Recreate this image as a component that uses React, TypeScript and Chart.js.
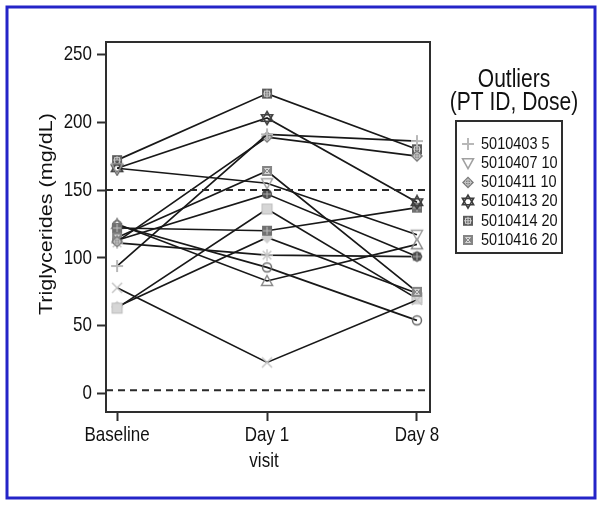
import React, { useEffect, useRef } from 'react';
import { Chart, registerables } from 'chart.js';

Chart.register(...registerables);

// ---- data ----
const visits = ['Baseline', 'Day 1', 'Day 8'];
const yTicks = [0, 50, 100, 150, 200, 250];
const refLines = [150, 2.5];

// outliers (shown in legend)
const pt5010403 = [94, 191, 186];
const pt5010407 = [166, 155, 117];
const pt5010411 = [112, 189, 175];
const pt5010413 = [166, 203, 141];
const pt5010414 = [172, 221, 180];
const pt5010416 = [115, 164, 75];
// other patients
const ptA = [122, 120, 137];
const ptB = [124, 93, 54];
const ptC = [125, 83, 110];
const ptD = [113, 147, 101];
const ptE = [111, 102, 101];
const ptF = [78, 23, 69];
const ptG = [63, 136, 70];
const ptH = [64, 115, 74];

const legendLabels = ['5010403 5', '5010407 10', '5010411 10', '5010413 20', '5010414 20', '5010416 20'];

const X_MIN = -0.074;
const X_MAX = 2.087;
const Y_MIN = -13.5;
const Y_MAX = 259;
const S = 1.2; // vertical text stretch
const FONT = "'Liberation Sans', Arial, Helvetica, sans-serif";

type Kind = string;

function drawMarker(ctx: CanvasRenderingContext2D, kind: Kind, x: number, y: number) {
  ctx.save();
  ctx.translate(x, y);
  ctx.lineWidth = 1.5;
  const line = (a: number, b: number, c: number, d: number) => {
    ctx.beginPath(); ctx.moveTo(a, b); ctx.lineTo(c, d); ctx.stroke();
  };
  switch (kind) {
    case 'plus':
      ctx.strokeStyle = '#b8b8b8'; ctx.lineWidth = 2;
      line(-6, 0, 6, 0); line(0, -6, 0, 6);
      break;
    case 'triDown':
      ctx.strokeStyle = '#a0a0a0';
      ctx.beginPath(); ctx.moveTo(-5.5, -4.5); ctx.lineTo(5.5, -4.5); ctx.lineTo(0, 5.5); ctx.closePath(); ctx.stroke();
      break;
    case 'diamondCross':
      ctx.fillStyle = '#7a7a7a';
      ctx.beginPath(); ctx.moveTo(0, -6); ctx.lineTo(6, 0); ctx.lineTo(0, 6); ctx.lineTo(-6, 0); ctx.closePath(); ctx.fill();
      ctx.strokeStyle = '#c8c8c8'; ctx.lineWidth = 1;
      ctx.beginPath(); ctx.arc(0, 0, 2.8, 0, Math.PI * 2); ctx.stroke();
      line(-4, 0, 4, 0); line(0, -4, 0, 4);
      break;
    case 'starDavid':
      ctx.strokeStyle = '#3c3c3c'; ctx.lineWidth = 1.6;
      ctx.beginPath(); ctx.moveTo(0, -6.5); ctx.lineTo(5.6, 3.2); ctx.lineTo(-5.6, 3.2); ctx.closePath(); ctx.stroke();
      ctx.beginPath(); ctx.moveTo(0, 6.5); ctx.lineTo(5.6, -3.2); ctx.lineTo(-5.6, -3.2); ctx.closePath(); ctx.stroke();
      break;
    case 'squareCross':
      ctx.fillStyle = '#5c5c5c'; ctx.fillRect(-5, -5, 10, 10);
      ctx.strokeStyle = '#d0d0d0'; ctx.lineWidth = 1;
      ctx.strokeRect(-2.5, -2.5, 5, 5);
      line(0, -4, 0, 4); line(-4, 0, 4, 0);
      break;
    case 'squareInner':
      ctx.fillStyle = '#858585'; ctx.fillRect(-5, -5, 10, 10);
      ctx.strokeStyle = '#d8d8d8'; ctx.lineWidth = 1;
      ctx.beginPath(); ctx.moveTo(-2.5, -2.5); ctx.lineTo(2.5, -2.5); ctx.lineTo(-2.5, 2.5); ctx.lineTo(2.5, 2.5); ctx.closePath(); ctx.stroke();
      break;
    case 'circle':
      ctx.strokeStyle = '#6a6a6a';
      ctx.beginPath(); ctx.arc(0, 0, 4.5, 0, Math.PI * 2); ctx.stroke();
      break;
    case 'triangle':
      ctx.strokeStyle = '#8a8a8a';
      ctx.beginPath(); ctx.moveTo(0, -5.5); ctx.lineTo(5.5, 4.5); ctx.lineTo(-5.5, 4.5); ctx.closePath(); ctx.stroke();
      break;
    case 'asterisk':
      ctx.strokeStyle = '#c8c8c8';
      line(-6, 0, 6, 0); line(0, -6, 0, 6); line(-4.3, -4.3, 4.3, 4.3); line(-4.3, 4.3, 4.3, -4.3);
      break;
    case 'xLight':
      ctx.strokeStyle = '#c4c4c4';
      line(-5, -5, 5, 5); line(-5, 5, 5, -5);
      break;
    case 'squareLight':
      ctx.fillStyle = '#d6d6d6'; ctx.fillRect(-5, -5, 10, 10);
      ctx.strokeStyle = '#bdbdbd'; ctx.lineWidth = 1; ctx.strokeRect(-5, -5, 10, 10);
      break;
    case 'diamondLight':
      ctx.fillStyle = '#cfcfcf';
      ctx.beginPath(); ctx.moveTo(0, -6); ctx.lineTo(6, 0); ctx.lineTo(0, 6); ctx.lineTo(-6, 0); ctx.closePath(); ctx.fill();
      break;
    case 'circlePlus':
      ctx.fillStyle = '#4c4c4c';
      ctx.beginPath(); ctx.arc(0, 0, 5, 0, Math.PI * 2); ctx.fill();
      ctx.strokeStyle = '#b0b0b0'; ctx.lineWidth = 1;
      line(-4, 0, 4, 0); line(0, -4, 0, 4);
      break;
    case 'squareDark':
      ctx.fillStyle = '#707070'; ctx.fillRect(-5, -5, 10, 10);
      ctx.strokeStyle = '#c0c0c0'; ctx.lineWidth = 1;
      line(0, -4, 0, 4); line(-4, 0, 4, 0);
      break;
  }
  ctx.restore();
}

function markerCanvas(kind: Kind): HTMLCanvasElement {
  const c = document.createElement('canvas');
  c.width = 16; c.height = 16;
  const ctx = c.getContext('2d')!;
  drawMarker(ctx, kind, 8, 8);
  return c;
}

function stretchedText(ctx: CanvasRenderingContext2D, text: string, x: number, y: number, font: string, align: CanvasTextAlign, rotate = false) {
  ctx.save();
  ctx.font = font;
  ctx.fillStyle = '#111';
  ctx.textAlign = align;
  ctx.textBaseline = 'middle';
  ctx.translate(x, y);
  if (rotate) {
    ctx.rotate(-Math.PI / 2);
    ctx.scale(S, 1);
  } else {
    ctx.scale(1, S);
  }
  ctx.fillText(text, 0, 0);
  ctx.restore();
}

export default function App() {
  const ref = useRef<HTMLCanvasElement>(null);
  useEffect(() => {
    const canvas = ref.current!;
    const series = [
      { values: pt5010403, marker: 'plus' },
      { values: pt5010407, marker: 'triDown' },
      { values: pt5010411, marker: 'diamondCross' },
      { values: pt5010413, marker: 'starDavid' },
      { values: pt5010414, marker: 'squareCross' },
      { values: pt5010416, marker: 'squareInner' },
      { values: ptA, marker: 'squareDark' },
      { values: ptB, marker: 'circle' },
      { values: ptC, marker: 'triangle' },
      { values: ptD, marker: 'circlePlus' },
      { values: ptE, marker: 'asterisk' },
      { values: ptF, marker: 'xLight' },
      { values: ptG, marker: 'squareLight' },
      { values: ptH, marker: 'diamondLight' },
    ];
    const legendMarkers = series.slice(0, legendLabels.length).map((s) => s.marker);

    const datasets: any[] = series.map((s, i) => ({
      label: i < legendLabels.length ? legendLabels[i] : 'pt' + i,
      data: s.values.map((v, j) => ({ x: j, y: v })),
      borderColor: '#181818',
      borderWidth: 1.7,
      pointStyle: markerCanvas(s.marker),
      pointRadius: 6,
      pointHoverRadius: 6,
      order: 1,
    }));
    refLines.forEach((v) => {
      datasets.push({
        label: 'ref' + v,
        data: [{ x: X_MIN, y: v }, { x: X_MAX, y: v }],
        borderColor: '#2a2a2a',
        borderWidth: 2,
        borderDash: [7, 5],
        pointRadius: 0,
        order: 0,
      });
    });

    const decor = {
      id: 'decor',
      afterDraw(chart: any) {
        const ctx: CanvasRenderingContext2D = chart.ctx;
        const a = chart.chartArea;
        const xs = chart.scales.x;
        const ys = chart.scales.y;
        ctx.save();
        // plot frame
        ctx.strokeStyle = '#2e2e2e';
        ctx.lineWidth = 2;
        ctx.strokeRect(a.left, a.top, a.right - a.left, a.bottom - a.top);
        // y tick labels
        yTicks.forEach((v) => {
          stretchedText(ctx, String(v), a.left - 14, ys.getPixelForValue(v), `17px ${FONT}`, 'right');
        });
        // x tick labels
        visits.forEach((v, i) => {
          stretchedText(ctx, v, xs.getPixelForValue(i), a.bottom + 23, `17px ${FONT}`, 'center');
        });
        // axis titles
        stretchedText(ctx, 'visit', 264, 461, `17px ${FONT}`, 'center');
        stretchedText(ctx, 'Triglycerides (mg/dL)', 47, 214, `18px ${FONT}`, 'center', true);
        // legend
        const lx = 514;
        stretchedText(ctx, 'Outliers', lx, 80, `21px ${FONT}`, 'center');
        stretchedText(ctx, '(PT ID, Dose)', lx, 103, `21px ${FONT}`, 'center');
        ctx.strokeStyle = '#2e2e2e';
        ctx.lineWidth = 2;
        ctx.strokeRect(456, 121, 106, 132);
        legendLabels.forEach((lab, i) => {
          const y = 144 + i * 19.2;
          drawMarker(ctx, legendMarkers[i], 468, y);
          stretchedText(ctx, lab, 481, y, `14.5px ${FONT}`, 'left');
        });
        // outer blue border
        ctx.strokeStyle = '#2424c8';
        ctx.lineWidth = 3;
        ctx.strokeRect(7, 7, 588, 491);
        ctx.restore();
      },
    };

    const chart = new Chart(canvas, {
      type: 'line',
      data: { datasets },
      options: {
        responsive: false,
        animation: false,
        devicePixelRatio: 1,
        layout: { padding: { left: 0, top: 42, right: 170, bottom: 0 } },
        plugins: { legend: { display: false }, tooltip: { enabled: false } },
        scales: {
          x: {
            type: 'linear',
            min: X_MIN,
            max: X_MAX,
            afterBuildTicks: (s: any) => { s.ticks = visits.map((_, i) => ({ value: i })); },
            afterFit: (s: any) => { s.height = 95; },
            ticks: { display: false },
            grid: { drawOnChartArea: false, drawTicks: true, tickLength: 9, tickWidth: 2, tickColor: '#2e2e2e' },
            border: { display: false },
          },
          y: {
            type: 'linear',
            min: Y_MIN,
            max: Y_MAX,
            afterBuildTicks: (s: any) => { s.ticks = yTicks.map((v) => ({ value: v })); },
            afterFit: (s: any) => { s.width = 106; },
            ticks: { display: false },
            grid: { drawOnChartArea: false, drawTicks: true, tickLength: 9, tickWidth: 2, tickColor: '#2e2e2e' },
            border: { display: false },
          },
        },
      },
      plugins: [decor],
    } as any);
    return () => chart.destroy();
  }, []);

  return (
    <div style={{ position: 'absolute', left: 0, top: 0, width: 600, height: 507, background: '#fff' }}>
      <canvas ref={ref} width={600} height={507} style={{ display: 'block' }} />
    </div>
  );
}
